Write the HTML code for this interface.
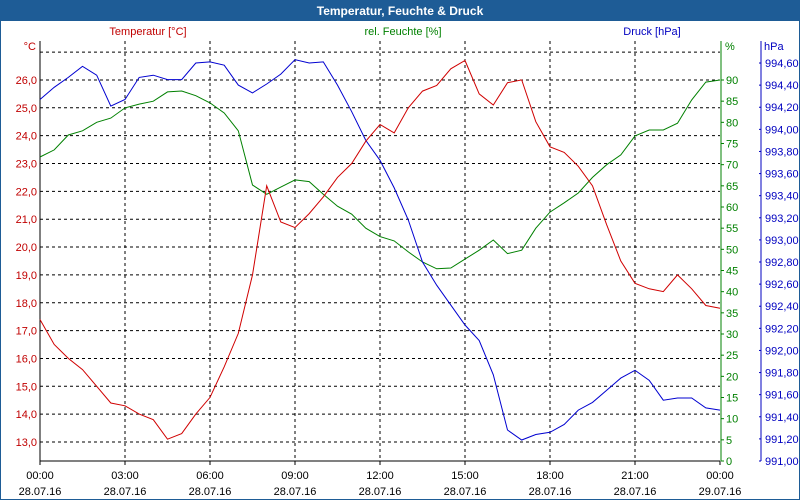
<!DOCTYPE html>
<html><head><meta charset="utf-8"><style>
body{margin:0;background:#fff}
svg{display:block;font-family:"Liberation Sans",sans-serif;font-size:11px}
</style></head><body>
<svg id="c" width="800" height="500" xmlns="http://www.w3.org/2000/svg">
<rect x="0.5" y="0.5" width="799" height="499" fill="#fff" stroke="#1e5c96"/>
<rect x="0" y="0" width="800" height="21" fill="#1e5c96"/>
<text x="400" y="15" text-anchor="middle" fill="#fff" font-weight="bold" font-size="12">Temperatur, Feuchte &amp; Druck</text>
<text x="148" y="35" text-anchor="middle" fill="#c00000">Temperatur [°C]</text>
<text x="403" y="35" text-anchor="middle" fill="#008000">rel. Feuchte [%]</text>
<text x="652" y="35" text-anchor="middle" fill="#0000c0">Druck [hPa]</text>
<text x="36" y="50" text-anchor="end" fill="#c00000">°C</text>
<text x="725" y="50" fill="#008000">%</text>
<text x="764" y="50" fill="#0000c0">hPa</text>
<g id="grid"></g><g id="axes"></g><g id="series"></g>
</svg>
<script>
const hours=[0,0.5,1,1.5,2,2.5,3,3.5,4,4.5,5,5.5,6,6.5,7,7.5,8,8.5,9,9.5,10,10.5,11,11.5,12,12.5,13,13.5,14,14.5,15,15.5,16,16.5,17,17.5,18,18.5,19,19.5,20,20.5,21,21.5,22,22.5,23,23.5,24];
const temperature=[17.4,16.5,16.0,15.6,15.0,14.4,14.3,14.0,13.8,13.1,13.3,14.0,14.6,15.7,16.9,19.0,22.2,20.9,20.7,21.2,21.8,22.5,23.0,23.8,24.4,24.1,25.0,25.6,25.8,26.4,26.7,25.5,25.1,25.9,26.0,24.5,23.6,23.4,22.9,22.2,20.8,19.5,18.7,18.5,18.4,19.0,18.5,17.9,17.8];
const humidity=[71.8,73.5,77,78,80,81,83.4,84.3,85,87.2,87.4,86.3,84.6,82.2,78,65.2,63,64.7,66.4,66,63,60.2,58.3,55,53,52,49.4,47,45.4,45.6,47.7,49.8,52.2,49,49.8,55,58.8,61,63.3,67,70,72.3,76.8,78.2,78.2,79.8,85.3,89.5,90];
const pressure=[994.27,994.38,994.47,994.57,994.49,994.21,994.27,994.47,994.49,994.45,994.45,994.60,994.61,994.58,994.40,994.33,994.41,994.50,994.63,994.60,994.61,994.40,994.16,993.90,993.72,993.47,993.18,992.80,992.59,992.41,992.23,992.09,991.78,991.28,991.19,991.24,991.26,991.33,991.46,991.53,991.64,991.75,991.82,991.73,991.55,991.57,991.57,991.48,991.46];
const tempTicks=[13,14,15,16,17,18,19,20,21,22,23,24,25,26];
const humTicks=[0,5,10,15,20,25,30,35,40,45,50,55,60,65,70,75,80,85,90];
const presTicks=[991.0,991.2,991.4,991.6,991.8,992.0,992.2,992.4,992.6,992.8,993.0,993.2,993.4,993.6,993.8,994.0,994.2,994.4,994.6];
const timeTicks=[0,3,6,9,12,15,18,21,24];
const timeLabels=["00:00","03:00","06:00","09:00","12:00","15:00","18:00","21:00","00:00"];
const dateLabels=["28.07.16","28.07.16","28.07.16","28.07.16","28.07.16","28.07.16","28.07.16","28.07.16","29.07.16"];

const L=40,R=720,T=41,B=461;
const xS=h=>L+h*(R-L)/24;
const yT=v=>442-(v-13)*27.85;
const yH=v=>B-v*(B-80)/90;
const yP=v=>B-(v-991)*110.55;
const NS="http://www.w3.org/2000/svg";
function mk(tag,attrs,parent,txt){const e=document.createElementNS(NS,tag);for(const k in attrs)e.setAttribute(k,attrs[k]);if(txt!==undefined)e.textContent=txt;parent.appendChild(e);return e;}
const grid=document.getElementById('grid'),axes=document.getElementById('axes'),ser=document.getElementById('series');
const fmt=(v,d)=>v.toFixed(d).replace('.',',');

// horizontal grid (temperature) + top line
[...tempTicks,27].forEach(t=>{
  const g=mk('line',{x1:L,x2:R,y1:yT(t),y2:yT(t),stroke:'#000','stroke-dasharray':'3,3'},grid);
  
  
});
timeTicks.forEach((h,i)=>{
  if(i>0&&i<timeTicks.length-1){
    const g=mk('line',{x1:xS(h),x2:xS(h),y1:T,y2:B,stroke:'#000','stroke-dasharray':'3,3'},grid);
    
    
  }
  const a=mk('text',{x:xS(h),y:479,'text-anchor':'middle',fill:'#000'},axes,timeLabels[i]);
  
  
  const b=mk('text',{x:xS(h),y:495,'text-anchor':'middle',fill:'#000'},axes,dateLabels[i]);
  
  
  const tk=mk('line',{x1:xS(h),x2:xS(h),y1:B,y2:B+4,stroke:'#000'},axes);
  
  
});
// axis lines
let e;
e=mk('line',{x1:L,x2:L,y1:T,y2:B,stroke:'#000'},axes);


e=mk('line',{x1:L,x2:R,y1:B,y2:B,stroke:'#000'},axes);


e=mk('line',{x1:R+1,x2:R+1,y1:T,y2:B,stroke:'#008000'},axes);


e=mk('line',{x1:761,x2:761,y1:T,y2:B,stroke:'#0000c0'},axes);


tempTicks.forEach(t=>{
  const a=mk('text',{x:37,y:yT(t)+4,'text-anchor':'end',fill:'#c00000'},axes,fmt(t,1));
  
  
});
humTicks.forEach(t=>{
  const a=mk('text',{x:726,y:yH(t)+4,fill:'#008000'},axes,String(t));
  
  
  const k=mk('line',{x1:R+1,x2:R+4,y1:yH(t),y2:yH(t),stroke:'#008000'},axes);
  
  
});
presTicks.forEach(t=>{
  const a=mk('text',{x:765,y:yP(t)+4,fill:'#0000c0'},axes,fmt(t,2));
  
  
  const k=mk('line',{x1:759,x2:761,y1:yP(t),y2:yP(t),stroke:'#0000c0'},axes);
  
  
});
function line(vals,yf,color,name){
  const pts=vals.map((v,i)=>xS(hours[i]).toFixed(1)+','+yf(v).toFixed(1)).join(' ');
  const p=mk('polyline',{points:pts,fill:'none',stroke:color,'stroke-width':1},ser);
  
  
}
line(humidity,yH,'#008000','humidity-line');
line(pressure,yP,'#0000d0','pressure-line');
line(temperature,yT,'#d00000','temperature-line');
</script>
</body></html>
